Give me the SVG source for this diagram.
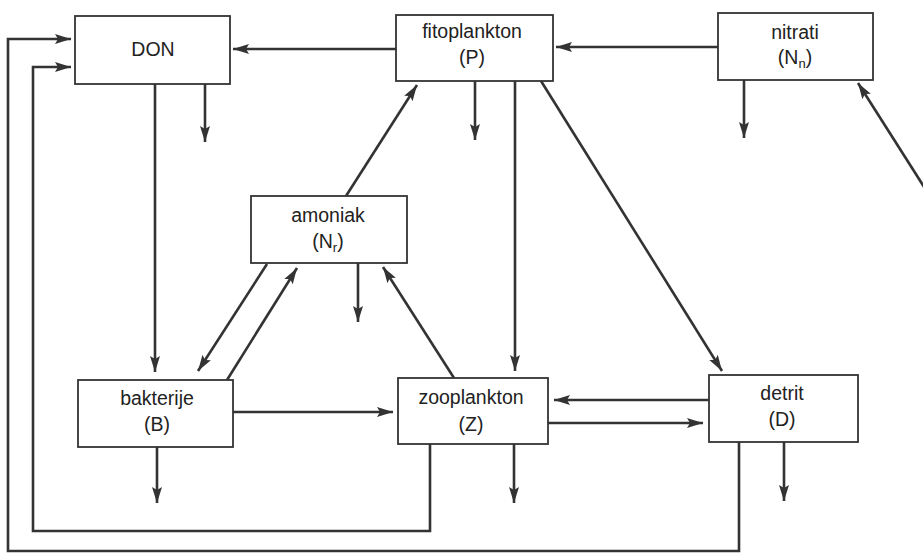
<svg xmlns="http://www.w3.org/2000/svg" width="923" height="554" viewBox="0 0 923 554">
<style>
.box{fill:#fff;stroke:#333;stroke-width:1.8}
.lbl{font-family:"Liberation Sans",Arial,sans-serif;font-size:19.5px;fill:#222;text-anchor:middle}
.sub{font-size:13px}
.c{fill:none;stroke:#333;stroke-width:2.6}
.a{marker-end:url(#ah)}
</style>
<defs>
<marker id="ah" markerUnits="userSpaceOnUse" markerWidth="17" markerHeight="11" refX="16" refY="5.5" orient="auto">
<path d="M0,0.5 L16,5.5 L0,10.5 L3,5.5 z" fill="#333"/>
</marker>
</defs>
<rect width="923" height="554" fill="#fff"/>
<g id="connectors">
<line class="c a" x1="396" y1="49" x2="233" y2="49"/>
<line class="c a" x1="718" y1="47" x2="556" y2="47"/>
<line class="c a" x1="155" y1="84" x2="155" y2="372"/>
<line class="c a" x1="205" y1="84" x2="205" y2="142"/>
<line class="c a" x1="475" y1="81" x2="475" y2="140"/>
<line class="c a" x1="515" y1="81" x2="515" y2="371"/>
<line class="c a" x1="541" y1="81" x2="722" y2="371"/>
<line class="c a" x1="744" y1="80" x2="744" y2="138"/>
<line class="c a" x1="926" y1="190" x2="858" y2="83"/>
<line class="c a" x1="346" y1="196" x2="417" y2="85"/>
<line class="c a" x1="267" y1="264" x2="198" y2="371"/>
<line class="c a" x1="227" y1="380" x2="297" y2="268"/>
<line class="c a" x1="358" y1="263" x2="358" y2="322"/>
<line class="c a" x1="454" y1="378" x2="383" y2="267"/>
<line class="c a" x1="233" y1="412" x2="393" y2="412"/>
<line class="c a" x1="157" y1="447" x2="157" y2="503"/>
<line class="c a" x1="709" y1="400" x2="554" y2="400"/>
<line class="c a" x1="548" y1="423" x2="703" y2="423"/>
<line class="c a" x1="514" y1="444" x2="514" y2="503"/>
<line class="c a" x1="784" y1="442" x2="784" y2="501"/>
<path class="c a" d="M430,444 V531 H33 V67 H71"/>
<path class="c a" d="M739,442 V551 H8 V39 H71"/>
</g>
<g id="DON">
<rect class="box" x="75" y="16" width="155" height="68"/>
<text class="lbl" x="153" y="56">DON</text>
</g>
<g id="fitoplankton">
<rect class="box" x="396" y="15" width="157" height="66"/>
<text class="lbl" x="472" y="38">fitoplankton</text>
<text class="lbl" x="472" y="64">(P)</text>
</g>
<g id="nitrati">
<rect class="box" x="718" y="13" width="155" height="67"/>
<text class="lbl" x="795" y="39">nitrati</text>
<text class="lbl" x="795" y="64">(N<tspan class="sub" dy="4">n</tspan><tspan dy="-4">)</tspan></text>
</g>
<g id="amoniak">
<rect class="box" x="251" y="196" width="156" height="67"/>
<text class="lbl" x="328" y="222">amoniak</text>
<text class="lbl" x="328" y="248">(N<tspan class="sub" dy="4">r</tspan><tspan dy="-4">)</tspan></text>
</g>
<g id="bakterije">
<rect class="box" x="78" y="380" width="155" height="67"/>
<text class="lbl" x="157" y="405">bakterije</text>
<text class="lbl" x="157" y="431">(B)</text>
</g>
<g id="zooplankton">
<rect class="box" x="398" y="378" width="150" height="66"/>
<text class="lbl" x="471" y="404">zooplankton</text>
<text class="lbl" x="471" y="431">(Z)</text>
</g>
<g id="detrit">
<rect class="box" x="709" y="375" width="149" height="67"/>
<text class="lbl" x="782" y="400">detrit</text>
<text class="lbl" x="782" y="426">(D)</text>
</g>
</svg>
